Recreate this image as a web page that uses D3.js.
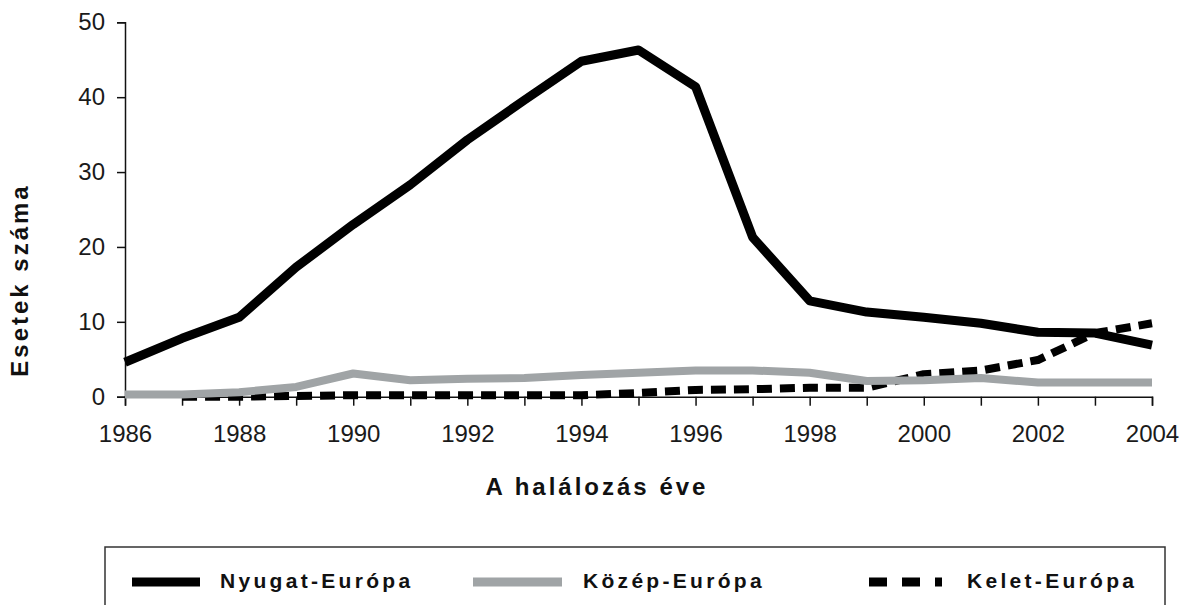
<!DOCTYPE html>
<html>
<head>
<meta charset="utf-8">
<script src="https://cdn.jsdelivr.net/npm/d3@7"></script>
<style>
  html, body { margin: 0; padding: 0; background: #fff; }
  svg { display: block; font-family: "Liberation Sans", Arial, sans-serif; }
</style>
</head>
<body>
<svg id="chart" width="1184" height="605"></svg>
<script>
const years  = [1986, 1987, 1988, 1989, 1990, 1991, 1992, 1993, 1994, 1995, 1996, 1997, 1998, 1999, 2000, 2001, 2002, 2003, 2004];
const nyugat = [4.6, 7.8, 10.6, 17.3, 23.0, 28.3, 34.3, 39.6, 44.8, 46.3, 41.4, 21.3, 12.8, 11.3, 10.6, 9.8, 8.6, 8.5, 6.9];
const kozep  = [0.3, 0.3, 0.6, 1.3, 3.1, 2.2, 2.4, 2.5, 2.9, 3.2, 3.5, 3.5, 3.2, 2.1, 2.2, 2.5, 1.9, 1.9, 1.9];
// no value drawn for 1986
const kelet  = [null, 0, 0, 0.1, 0.2, 0.2, 0.2, 0.2, 0.2, 0.5, 0.9, 1.0, 1.2, 1.2, 3.0, 3.5, 4.9, 8.5, 9.8];

const yTicks = [0, 10, 20, 30, 40, 50];
const xLabels = [1986, 1988, 1990, 1992, 1994, 1996, 1998, 2000, 2002, 2004];

const series = [
  { name: 'Kelet-Európa',  values: kelet,  color: '#000',    width: 8, dash: '15,8' },
  { name: 'Közép-Európa',  values: kozep,  color: '#a0a4a6', width: 8, dash: null },
  { name: 'Nyugat-Európa', values: nyugat, color: '#000',    width: 9, dash: null }
];

const svg = d3.select('#chart');

const x = d3.scaleLinear().domain([1986, 2004]).range([125, 1152]);
const y = d3.scaleLinear().domain([0, 50]).range([396.7, 22.3]);

// axes
const yAxis = d3.axisLeft(y)
      .tickValues(yTicks)
      .tickSize(8)
      .tickPadding(12);

const xAxis = d3.axisBottom(x)
      .tickValues(years)
      .tickSize(9)
      .tickPadding(19)
      .tickFormat(d => xLabels.includes(d) ? d : '');

const gy = svg.append('g')
      .attr('transform', `translate(${x(1986)},0)`)
      .call(yAxis);

const gx = svg.append('g')
      .attr('transform', `translate(0,${y(0)})`)
      .call(xAxis);

for (let g of [gx, gy]) {
  g.select('.domain').attr('stroke', '#111').attr('stroke-width', 1.5);
  g.selectAll('.tick line').attr('stroke', '#111').attr('stroke-width', 1.5);
  g.selectAll('.tick text')
    .attr('fill', '#1a1a1a')
    .style('font-size', '24px')
    .style('font-family', '"Liberation Sans", Arial, sans-serif');
}

// lines
const line = vals => d3.line()
      .defined(d => d !== null)
      .x((d, i) => x(years[i]))
      .y(d => y(d))(vals);

svg.append('g')
  .selectAll('path')
  .data(series)
  .enter().append('path')
  .attr('d', s => line(s.values))
  .attr('fill', 'none')
  .attr('stroke', s => s.color)
  .attr('stroke-width', s => s.width)
  .attr('stroke-dasharray', s => s.dash)
  .attr('stroke-linejoin', 'round');

// axis titles
svg.append('text')
  .attr('x', 597)
  .attr('y', 495)
  .attr('text-anchor', 'middle')
  .style('font-size', '24px')
  .style('font-weight', 'bold')
  .style('letter-spacing', '3px')
  .attr('fill', '#111')
  .text('A halálozás éve');

svg.append('text')
  .attr('transform', 'translate(28,280) rotate(-90)')
  .attr('text-anchor', 'middle')
  .style('font-size', '24px')
  .style('font-weight', 'bold')
  .style('letter-spacing', '3px')
  .attr('fill', '#111')
  .text('Esetek száma');

// legend
const legend = svg.append('g');

legend.append('rect')
  .attr('x', 105)
  .attr('y', 547)
  .attr('width', 1060)
  .attr('height', 80)
  .attr('fill', 'none')
  .attr('stroke', '#333')
  .attr('stroke-width', 1.5);

const legendItems = [
  { name: 'Nyugat-Európa', color: '#000',    dash: null,    x0: 132, x1: 200, tx: 220 },
  { name: 'Közép-Európa',  color: '#a0a4a6', dash: null,    x0: 473, x1: 562, tx: 583 },
  { name: 'Kelet-Európa',  color: '#000',    dash: '18,15', x0: 869, x1: 942, tx: 967 }
];

const li = legend.selectAll('g.item')
      .data(legendItems)
      .enter().append('g')
      .attr('class', 'item');

li.append('line')
  .attr('x1', d => d.x0)
  .attr('x2', d => d.x1)
  .attr('y1', 582)
  .attr('y2', 582)
  .attr('stroke', d => d.color)
  .attr('stroke-width', 9)
  .attr('stroke-dasharray', d => d.dash);

li.append('text')
  .attr('x', d => d.tx)
  .attr('y', 588)
  .style('font-size', '21px')
  .style('font-weight', 'bold')
  .style('letter-spacing', '3.3px')
  .attr('fill', '#111')
  .text(d => d.name);
</script>
</body>
</html>
